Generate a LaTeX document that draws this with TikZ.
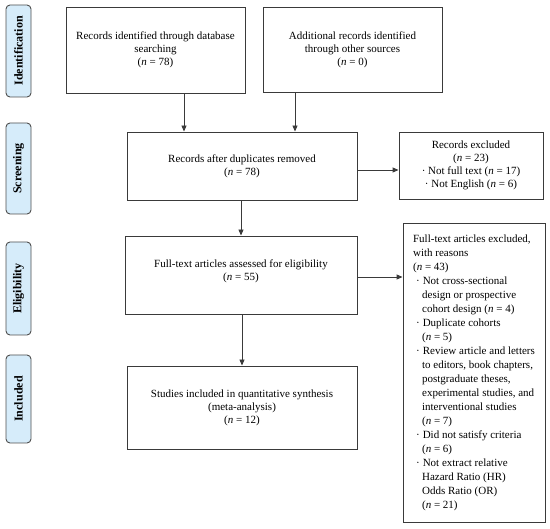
\documentclass[tikz,border=0pt]{standalone}
\usepackage{fontspec}
\setmainfont{Liberation Serif}
\usetikzlibrary{arrows.meta}
\definecolor{lineg}{HTML}{3A3A3A}
\definecolor{labfill}{HTML}{D6ECFA}
\begin{document}
\begin{tikzpicture}[x=1pt,y=-1pt,
  box/.style={draw=lineg, line width=0.9pt, rectangle, inner sep=2pt, align=center, font=\fontsize{11}{13}\selectfont},
  stage/.style={draw=lineg!90, line width=0.9pt, fill=labfill, rounded corners=4pt, minimum width=25, inner sep=0pt, font=\fontsize{12}{14}\selectfont\bfseries},
  arr/.style={draw=lineg, line width=0.9pt, -{Triangle[length=6pt,width=5pt]}}
]
\useasboundingbox (0,0) rectangle (550,529);
% stage labels
\node[stage, minimum height=92] (s1) at (18.5,51) {};
\node[rotate=90, font=\fontsize{12}{14}\selectfont\bfseries] (s1t) at (s1.center) {Identification};
\node[stage, minimum height=91] (s2) at (18.5,168.5) {};
\node[rotate=90, font=\fontsize{12}{14}\selectfont\bfseries] (s2t) at (s2.center) {Screening};
\node[stage, minimum height=93] (s3) at (18.5,288.5) {};
\node[rotate=90, font=\fontsize{12}{14}\selectfont\bfseries] (s3t) at (s3.center) {Eligibility};
\node[stage, minimum height=88] (s4) at (18.5,399) {};
\node[rotate=90, font=\fontsize{12}{14}\selectfont\bfseries] (s4t) at (s4.center) {Included};
% boxes
\node[box, minimum width=179, minimum height=86] (b1) at (155.5,50) {Records identified through database\\ searching\\ (\textit{n} = 78)};
\node[box, minimum width=179, minimum height=85] (b2) at (352.5,49.5) {Additional records identified\\ through other sources\\ (\textit{n} = 0)};
\node[box, minimum width=230, minimum height=68] (b3) at (242,166) {Records after duplicates removed\\ (\textit{n} = 78)};
\node[box, minimum width=144, minimum height=67] (b4) at (471,165.5) {Records excluded\\ (\textit{n} = 23)\\ · Not full text (\textit{n} = 17)\\ · Not English (\textit{n} = 6)};
\node[box, minimum width=232, minimum height=78] (b5) at (241,275) {Full-text articles assessed for eligibility\\ (\textit{n} = 55)\\[-4pt] \mbox{}};
\node[box, minimum width=142, minimum height=299, align=left, inner sep=6pt, font=\fontsize{11}{14}\selectfont] (b6) at (474,372.5) {%
Full-text articles excluded,\\
with reasons\\
(\textit{n} = 43)\\
\hspace*{3pt}·\hspace*{3pt}Not cross-sectional\\
\hspace*{9pt}design or prospective\\
\hspace*{9pt}cohort design (\textit{n} = 4)\\
\hspace*{3pt}·\hspace*{3pt}Duplicate cohorts\\
\hspace*{9pt}(\textit{n} = 5)\\
\hspace*{3pt}·\hspace*{3pt}Review article and letters\\
\hspace*{9pt}to editors, book chapters,\\
\hspace*{9pt}postgraduate theses,\\
\hspace*{9pt}experimental studies, and\\
\hspace*{9pt}interventional studies\\
\hspace*{9pt}(\textit{n} = 7)\\
\hspace*{3pt}·\hspace*{3pt}Did not satisfy criteria\\
\hspace*{9pt}(\textit{n} = 6)\\
\hspace*{3pt}·\hspace*{3pt}Not extract relative\\
\hspace*{9pt}Hazard Ratio (HR)\\
\hspace*{9pt}Odds Ratio (OR)\\
\hspace*{9pt}(\textit{n} = 21)};
\node[box, minimum width=230, minimum height=83] (b7) at (242,407.5) {Studies included in quantitative synthesis\\ (meta-analysis)\\ (\textit{n} = 12)};
% connectors
\draw[arr] (b1.south -| 184,0) -- (b3.north -| 184,0);
\draw[arr] (b2.south -| 295,0) -- (b3.north -| 295,0);
\draw[arr] (b3.east |- 0,170) -- (b4.west |- 0,170);
\draw[arr] (b3.south -| 241,0) -- (b5.north -| 241,0);
\draw[arr] (b5.east |- 0,277) -- (b6.west |- 0,277);
\draw[arr] (b5.south -| 242,0) -- (b7.north -| 242,0);
\end{tikzpicture}
\end{document}
